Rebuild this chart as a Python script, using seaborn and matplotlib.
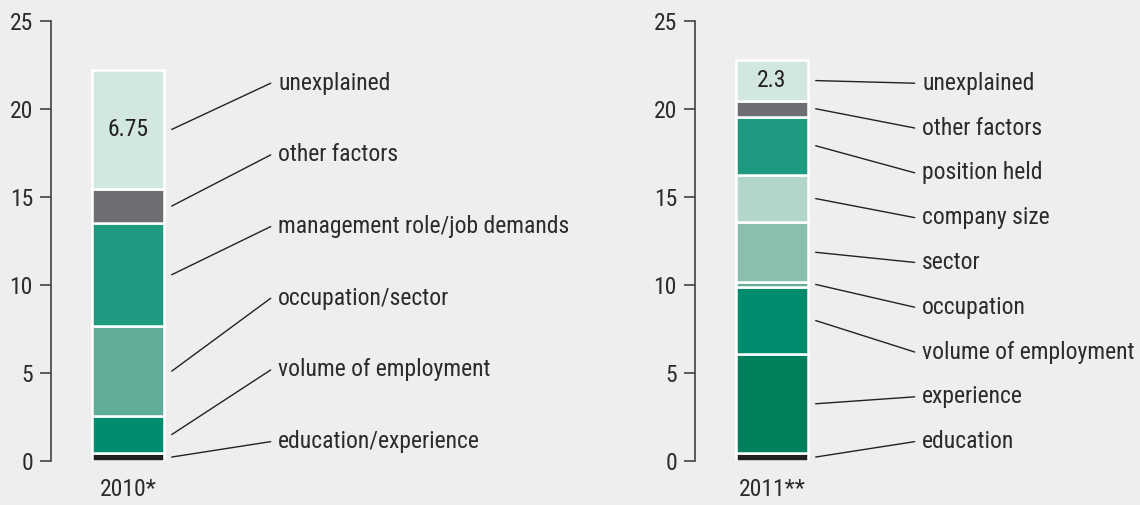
import numpy as np
import pandas as pd
import matplotlib
matplotlib.use("Agg")
from matplotlib import pyplot as plt
import seaborn as sns

# data, bottom -> top
labels_2010 = ["education/experience", "volume of employment", "occupation/sector",
               "management role/job demands", "other factors", "unexplained"]
values_2010 = [0.45, 2.1, 5.1, 5.85, 1.95, 6.75]
colors_2010 = ["#231f20", "#028c6e", "#5fac98", "#1e9a80", "#6d6e71", "#d2e7e0"]

labels_2011 = ["education", "experience", "volume of employment", "occupation", "sector",
               "company size", "position held", "other factors", "unexplained"]
values_2011 = [0.45, 5.6, 3.85, 0.25, 3.4, 2.7, 3.3, 0.9, 2.3]
colors_2011 = ["#231f20", "#007f5e", "#028c6e", "#5fae98", "#8abfb0",
               "#b2d6cb", "#1e9a80", "#6d6e71", "#d2e7e0"]

years = ["2010*", "2011**"]
yticks = [0, 5, 10, 15, 20, 25]

bg = "#eeeeee"
txt = "#2b2b2b"
fs = 17

sns.set_theme(style="white", rc={"axes.facecolor": bg, "figure.facecolor": bg})
plt.rcParams['font.family'] = ['Roboto Condensed', 'Liberation Sans', 'DejaVu Sans']

fig = plt.figure(figsize=(11.4, 5.05), dpi=100)
W, H = 1140., 505.
px = 90.  # pixels per x unit
ax1 = fig.add_axes([51 / W, 44 / H, 445 / W, 440.3 / H])
ax2 = fig.add_axes([695 / W, 44 / H, 445 / W, 440.3 / H])


def stacked(ax, year, labels, values, colors, value_label):
    bottom = 0
    mids = []
    for lab, v, c in zip(labels, values, colors):
        df = pd.DataFrame({"year": [year], "value": [v]})
        sns.barplot(data=df, x="year", y="value", color=c, width=0.8, bottom=bottom,
                    edgecolor="white", linewidth=1.8, ax=ax, saturation=1, errorbar=None)
        mids.append(bottom + v / 2)
        bottom += v
    # value in top segment
    ax.text(0, mids[-1], value_label, ha="center", va="center", fontsize=fs,
            color="#231f20")
    # labels with leader lines
    label_y = np.linspace(1.1, 21.45, len(labels))
    for lab, m, ly in zip(labels, mids, label_y):
        ax.plot([43.7 / px, 142.7 / px], [m, ly], color="#222222", lw=1.0, clip_on=False)
        ax.text(150 / px, ly, lab, ha="left", va="center", fontsize=fs, color=txt)

    ax.set_xlim(-77 / px, 368 / px)
    ax.set_ylim(0, 25)
    ax.set_yticks(yticks)
    ax.set_xlabel("")
    ax.set_ylabel("")
    sns.despine(ax=ax, bottom=True)
    ax.spines["left"].set_color("#333333")
    ax.spines["left"].set_linewidth(1.1)
    ax.tick_params(axis="y", direction="out", length=8, width=1.1, color="#333333",
                   pad=5, labelsize=fs, labelcolor=txt, left=True)
    ax.tick_params(axis="x", length=0, pad=12, labelsize=fs, labelcolor=txt)


stacked(ax1, years[0], labels_2010, values_2010, colors_2010, "6.75")
stacked(ax2, years[1], labels_2011, values_2011, colors_2011, "2.3")

fig.savefig("out.png", dpi=100, facecolor=bg)
